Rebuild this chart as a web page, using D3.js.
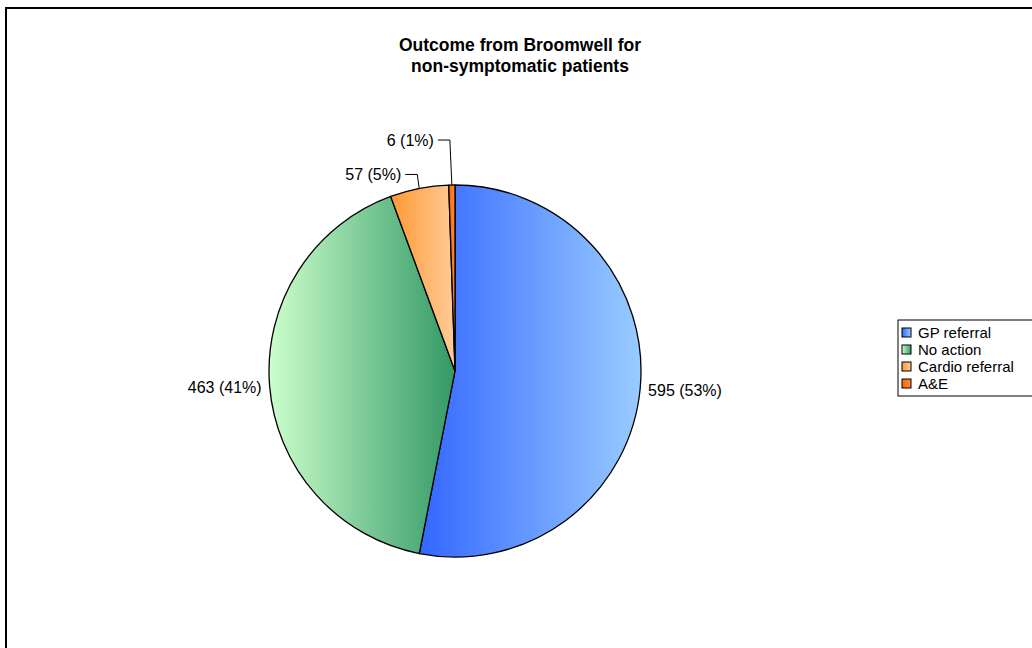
<!DOCTYPE html>
<html>
<head>
<meta charset="utf-8">
<script src="https://cdn.jsdelivr.net/npm/d3@7"></script>
<style>
  body { margin: 0; background: #fff; }
  svg { display: block; font-family: "Liberation Sans", Arial, sans-serif; }
</style>
</head>
<body>
<svg id="chart" width="1032" height="648"></svg>
<script>
// data
var categories = ["GP referral", "No action", "Cardio referral", "A&E"];
var counts = [595, 463, 57, 6];
var titleLines = ["Outcome from Broomwell for", "non-symptomatic patients"];

// gradient stops per slice (left -> right)
var sliceColors = [
  ["#3366ff", "#99ccff"],
  ["#ccffcc", "#339966"],
  ["#ff9933", "#ffcc99"],
  ["#ff6600", "#ff8a3d"]
];

var svg = d3.select("#chart");
var defs = svg.append("defs");

sliceColors.forEach(function(c, i){
  var g = defs.append("linearGradient")
    .attr("id", "grad" + i)
    .attr("x1", "0").attr("y1", "0").attr("x2", "1").attr("y2", "0");
  g.append("stop").attr("offset", "0").attr("stop-color", c[0]);
  g.append("stop").attr("offset", "1").attr("stop-color", c[1]);
});

// outer frame (runs off the right and bottom edge)
svg.append("rect")
  .attr("x", 6).attr("y", 8)
  .attr("width", 1060).attr("height", 680)
  .attr("fill", "#fff")
  .attr("stroke", "#000").attr("stroke-width", 2);

// title
svg.append("text")
  .attr("x", 520).attr("y", 51)
  .attr("text-anchor", "middle")
  .style("font-weight", "bold")
  .style("font-size", "17.5px")
  .selectAll("tspan")
  .data(titleLines)
  .enter()
  .append("tspan")
  .attr("x", 520)
  .attr("dy", function(d, i){ return i == 0 ? 0 : 21; })
  .text(function(d){ return d; });

var cx = 455, cy = 371, radius = 186;
var total = d3.sum(counts);

var pie = d3.pie().sort(null).value(function(d){ return d; });
var arcs = pie(counts);
var arc = d3.arc().innerRadius(0).outerRadius(radius);

var g = svg.append("g").attr("transform", "translate(" + cx + "," + cy + ")");

g.selectAll("path.slice")
  .data(arcs)
  .enter()
  .append("path")
  .attr("class", "slice")
  .attr("d", arc)
  .attr("fill", function(d, i){ return "url(#grad" + i + ")"; })
  .attr("stroke", "#000")
  .attr("stroke-width", 1.3)
  .attr("stroke-linejoin", "round");

// labels
function edgePoint(a, r){
  return [Math.sin(a) * r, -Math.cos(a) * r];
}

arcs.forEach(function(d, i){
  var mid = (d.startAngle + d.endAngle) / 2;
  var pct = Math.round(d.value / total * 100);
  var label = d.value + " (" + pct + "%)";
  var p = edgePoint(mid, radius);
  var lbl = g.append("text")
    .style("font-size", "16px")
    .attr("dominant-baseline", "central")
    .text(label);

  if(d.endAngle - d.startAngle > 0.5){
    var q = edgePoint(mid, radius + 8);
    lbl.attr("x", q[0]).attr("y", q[1] + 1)
      .attr("text-anchor", q[0] > 0 ? "start" : "end");
  } else {
    // small slices: lifted label with a leader line
    var lift = i == 2 ? 14 : 45;
    var ex = p[0] - 2, ey = p[1] - lift;
    var hx = ex - 12;
    g.append("polyline")
      .attr("points", [[p[0], p[1]], [ex, ey], [hx, ey]].map(function(v){ return v.join(","); }).join(" "))
      .attr("fill", "none")
      .attr("stroke", "#000")
      .attr("stroke-width", 1);
    lbl.attr("x", hx - 4).attr("y", ey).attr("text-anchor", "end");
  }
});

// legend
var legX = 898, legY = 320, rowH = 17;
svg.append("rect")
  .attr("x", legX).attr("y", legY)
  .attr("width", 160).attr("height", 76)
  .attr("fill", "#fff")
  .attr("stroke", "#000").attr("stroke-width", 1);

var leg = svg.append("g").selectAll("g")
  .data(categories)
  .enter()
  .append("g")
  .attr("transform", function(d, i){ return "translate(" + (legX + 4) + "," + (legY + 12.5 + i * rowH) + ")"; });

leg.append("rect")
  .attr("x", 0).attr("y", -4.5)
  .attr("width", 9).attr("height", 9)
  .attr("fill", function(d, i){ return "url(#grad" + i + ")"; })
  .attr("stroke", "#000").attr("stroke-width", 1);

leg.append("text")
  .attr("x", 16).attr("y", 0)
  .attr("dominant-baseline", "central")
  .style("font-size", "15px")
  .text(function(d){ return d; });
</script>
</body>
</html>
